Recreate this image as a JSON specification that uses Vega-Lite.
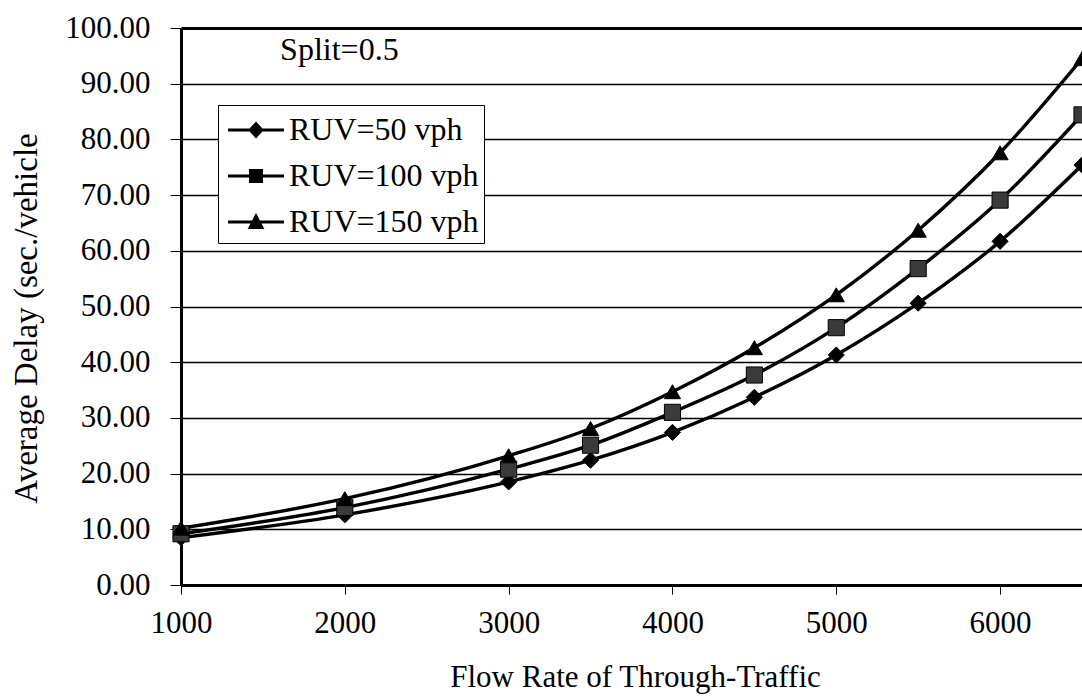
{
  "$schema": "https://vega.github.io/schema/vega-lite/v6.json",
  "width": 901,
  "height": 557,
  "autosize": {"type": "none"},
  "padding": {"left": 181, "top": 28, "right": 0, "bottom": 111},
  "background": "white",
  "config": {
    "view": {"stroke": null},
    "font": "Liberation Serif",
    "axis": {
      "labelFont": "Liberation Serif",
      "titleFont": "Liberation Serif",
      "labelColor": "black",
      "titleColor": "black",
      "labelFontSize": 31,
      "titleFontSize": 31,
      "titleFontWeight": "normal",
      "domainColor": "black",
      "tickColor": "black",
      "gridColor": "black"
    }
  },
  "data": {
    "values": [
      {"flow": 1000, "delay": 8.5, "series": "RUV=50 vph"},
      {"flow": 2000, "delay": 12.6, "series": "RUV=50 vph"},
      {"flow": 3000, "delay": 18.5, "series": "RUV=50 vph"},
      {"flow": 3500, "delay": 22.4, "series": "RUV=50 vph"},
      {"flow": 4000, "delay": 27.4, "series": "RUV=50 vph"},
      {"flow": 4500, "delay": 33.7, "series": "RUV=50 vph"},
      {"flow": 5000, "delay": 41.3, "series": "RUV=50 vph"},
      {"flow": 5500, "delay": 50.6, "series": "RUV=50 vph"},
      {"flow": 6000, "delay": 61.7, "series": "RUV=50 vph"},
      {"flow": 6500, "delay": 75.4, "series": "RUV=50 vph"},
      {"flow": 1000, "delay": 9.2, "series": "RUV=100 vph"},
      {"flow": 2000, "delay": 13.9, "series": "RUV=100 vph"},
      {"flow": 3000, "delay": 20.8, "series": "RUV=100 vph"},
      {"flow": 3500, "delay": 25.1, "series": "RUV=100 vph"},
      {"flow": 4000, "delay": 31.0, "series": "RUV=100 vph"},
      {"flow": 4500, "delay": 37.7, "series": "RUV=100 vph"},
      {"flow": 5000, "delay": 46.2, "series": "RUV=100 vph"},
      {"flow": 5500, "delay": 56.8, "series": "RUV=100 vph"},
      {"flow": 6000, "delay": 69.1, "series": "RUV=100 vph"},
      {"flow": 6500, "delay": 84.4, "series": "RUV=100 vph"},
      {"flow": 1000, "delay": 10.2, "series": "RUV=150 vph"},
      {"flow": 2000, "delay": 15.5, "series": "RUV=150 vph"},
      {"flow": 3000, "delay": 23.2, "series": "RUV=150 vph"},
      {"flow": 3500, "delay": 28.1, "series": "RUV=150 vph"},
      {"flow": 4000, "delay": 34.7, "series": "RUV=150 vph"},
      {"flow": 4500, "delay": 42.6, "series": "RUV=150 vph"},
      {"flow": 5000, "delay": 52.1, "series": "RUV=150 vph"},
      {"flow": 5500, "delay": 63.7, "series": "RUV=150 vph"},
      {"flow": 6000, "delay": 77.6, "series": "RUV=150 vph"},
      {"flow": 6500, "delay": 94.5, "series": "RUV=150 vph"}
    ]
  },
  "layer": [
    {
      "mark": {"type": "line", "interpolate": "monotone", "color": "black", "strokeWidth": 3.4, "clip": false},
      "encoding": {
        "x": {
          "field": "flow", "type": "quantitative",
          "scale": {"domain": [1000, 6500], "nice": false, "zero": false},
          "axis": {
            "title": "Flow Rate of Through-Traffic",
            "values": [1000, 2000, 3000, 4000, 5000, 6000],
            "format": "d",
            "grid": false,
            "domainWidth": 3,
            "tickSize": 9,
            "tickWidth": 1,
            "labelPadding": 14,
            "titlePadding": 24,
            "labelFlush": false,
            "titleX": 454
          }
        },
        "y": {
          "field": "delay", "type": "quantitative",
          "scale": {"domain": [0, 100], "nice": false},
          "axis": {
            "title": "Average Delay (sec./vehicle",
            "values": [0, 10, 20, 30, 40, 50, 60, 70, 80, 90, 100],
            "format": ".2f",
            "grid": true,
            "gridWidth": {"condition": {"test": "datum.value === 100", "value": 3}, "value": 1.5},
            "domainWidth": 3,
            "tickSize": 11,
            "tickWidth": 1,
            "labelPadding": 20,
            "titleFontSize": 33,
            "titleX": -171,
            "titleY": 290,
            "titleAngle": -90,
            "titleBaseline": "top"
          }
        },
        "detail": {"field": "series"}
      }
    },
    {
      "mark": {"type": "point", "filled": true, "fill": "black", "stroke": "black", "strokeWidth": 0, "opacity": 0},
      "encoding": {
        "x": {"field": "flow", "type": "quantitative"},
        "y": {"field": "delay", "type": "quantitative"},
        "shape": {
          "field": "series", "type": "nominal",
          "sort": ["RUV=50 vph", "RUV=100 vph", "RUV=150 vph"],
          "scale": {
            "domain": ["RUV=50 vph", "RUV=100 vph", "RUV=150 vph"],
            "range": [
              "M-0.75,-0.075H2.05V0.075H-0.75ZM0.65,-0.42L1.04,0L0.65,0.42L0.26,0Z",
              "M-0.75,-0.075H2.05V0.075H-0.75ZM0.3,-0.35H1V0.35H0.3Z",
              "M-0.75,-0.075H2.05V0.075H-0.75ZM0.65,-0.45L1.07,0.35L0.23,0.35Z"
            ]
          },
          "legend": {
            "title": null,
            "orient": "none",
            "legendX": 37,
            "legendY": 77,
            "symbolSize": 1600,
            "symbolOpacity": 1,
            "symbolFillColor": "black",
            "symbolStrokeWidth": 0,
            "labelFont": "Liberation Serif",
            "labelFontSize": 32,
            "labelColor": "black",
            "labelOffset": 26,
            "rowPadding": 10,
            "padding": 5,
            "strokeColor": "black",
            "fillColor": "white",
            "labelLimit": 300
          }
        }
      }
    },
    {
      "mark": {"type": "point", "filled": true, "stroke": "black", "strokeWidth": 1, "opacity": 1, "clip": false},
      "encoding": {
        "x": {"field": "flow", "type": "quantitative"},
        "y": {"field": "delay", "type": "quantitative"},
        "shape": {
          "field": "series", "type": "nominal",
          "scale": {
            "domain": ["RUV=50 vph", "RUV=100 vph", "RUV=150 vph"],
            "range": ["diamond", "square", "triangle-up"]
          },
          "legend": null
        },
        "fill": {
          "field": "series", "type": "nominal",
          "scale": {
            "domain": ["RUV=50 vph", "RUV=100 vph", "RUV=150 vph"],
            "range": ["black", "#3a3a3a", "black"]
          },
          "legend": null
        },
        "size": {"value": 260}
      }
    },
    {
      "data": {"values": [{"note": "Split=0.5"}]},
      "mark": {"type": "text", "font": "Liberation Serif", "fontSize": 32, "align": "left", "baseline": "middle", "color": "black"},
      "encoding": {
        "x": {"datum": 1605},
        "y": {"datum": 96},
        "text": {"field": "note"}
      }
    }
  ],
  "resolve": {"scale": {"shape": "independent"}}
}
